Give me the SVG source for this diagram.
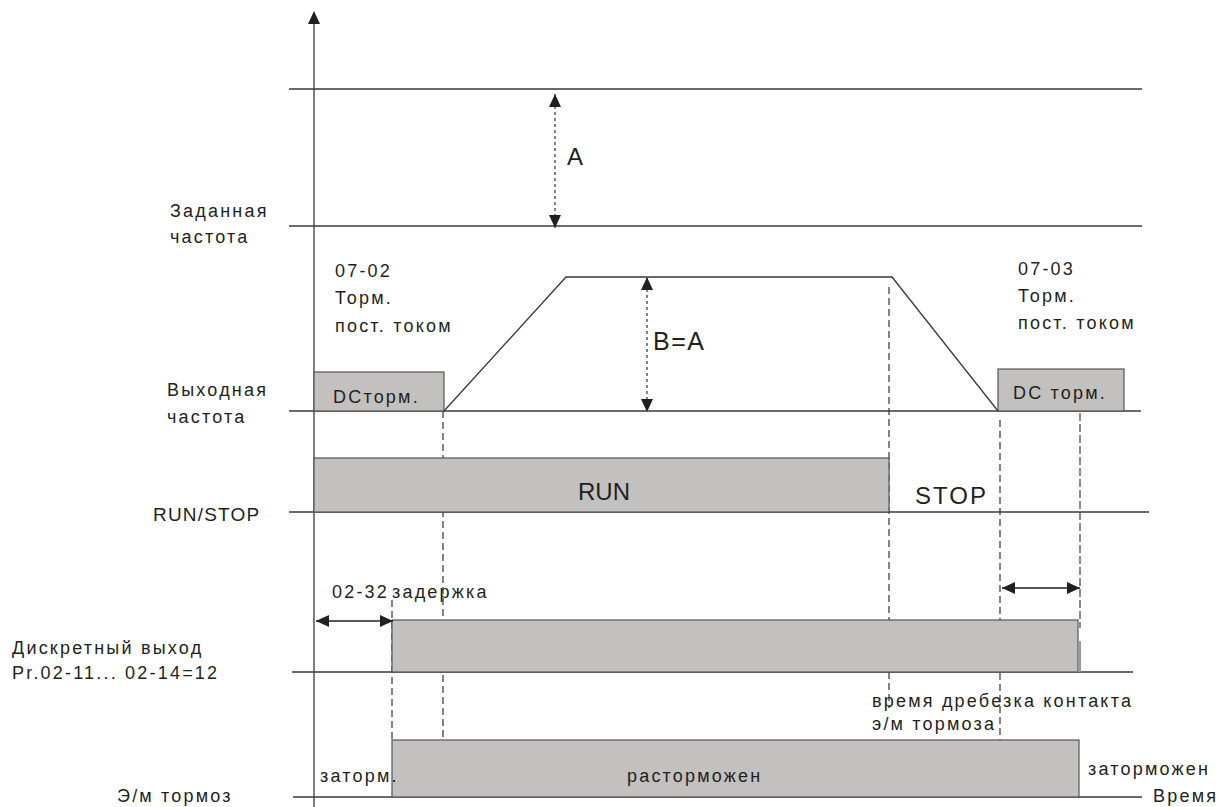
<svg xmlns="http://www.w3.org/2000/svg" width="1219" height="807" viewBox="0 0 1219 807">
<style>
.ln{stroke:#3a3a3a;stroke-width:1.3;fill:none}
.bar{fill:#c2c1bf;stroke:#555;stroke-width:1.2}
.dash{stroke:#333;stroke-width:1.2;stroke-dasharray:7,4;fill:none}
.dot{stroke:#777;stroke-width:1.8;stroke-dasharray:3,3;fill:none}
.gdash{stroke:#8a8a8a;stroke-width:2;stroke-dasharray:8,3;fill:none}
.arr{stroke:#231f20;stroke-width:1.3;fill:none}
.t{font-family:"Liberation Sans",Arial,sans-serif;font-size:18px;letter-spacing:2.2px;fill:#231f20}
.big{font-size:24px;letter-spacing:0}
</style>
<defs>
<marker id="ah" viewBox="0 0 13 12" refX="13" refY="6" markerWidth="13" markerHeight="12" markerUnits="userSpaceOnUse" orient="auto-start-reverse"><path d="M0,0 L13,6 L0,12 z" fill="#231f20"/></marker>
</defs>
<rect width="1219" height="807" fill="#fff"/>

<g id="dashed-guides">
<line class="dash" x1="443" y1="411" x2="443" y2="740"/>
<line class="dash" x1="392" y1="600" x2="392" y2="740"/>
<line class="dash" x1="889" y1="287" x2="889" y2="708"/>
<line class="dash" x1="1000" y1="420" x2="1000" y2="740"/>
<line class="gdash" x1="1080" y1="413" x2="1080" y2="628"/>
</g>

<g id="axes">
<line class="ln" x1="314" y1="22" x2="314" y2="807"/>
<polygon points="314,11 308,24 320,24" fill="#231f20"/>
<line class="ln" x1="289" y1="89" x2="1142" y2="89"/>
<line class="ln" x1="289" y1="226" x2="1142" y2="226"/>
<line class="ln" x1="289" y1="411" x2="1141" y2="411"/>
<line class="ln" x1="289" y1="512" x2="1149" y2="512"/>
<line class="ln" x1="292" y1="672" x2="1133" y2="672"/>
<line class="ln" x1="293" y1="797" x2="1142" y2="797"/>
</g>

<g id="output-frequency">
<rect class="bar" x="314" y="372" width="130" height="39"/>
<rect class="bar" x="998" y="369" width="126" height="42"/>
<polyline class="ln" points="444,411 566,277 892,277 998,411"/>
</g>

<g id="run-stop">
<rect class="bar" x="314" y="458" width="575" height="54"/>
</g>

<g id="digital-output">
<rect class="bar" x="392" y="620" width="686" height="52"/>
<rect x="1078" y="641" width="3" height="31" fill="#9a9a9a"/>
</g>

<g id="brake">
<rect class="bar" x="392" y="740" width="687" height="57"/>
</g>

<g id="connectors">
<line class="dot" x1="555" y1="94" x2="555" y2="228" marker-start="url(#ah)" marker-end="url(#ah)"/>
<line class="dot" x1="647" y1="277" x2="647" y2="412" marker-start="url(#ah)" marker-end="url(#ah)"/>
<line class="arr" x1="316" y1="621" x2="393" y2="621" marker-start="url(#ah)" marker-end="url(#ah)"/>
<line class="arr" x1="1002" y1="588" x2="1080" y2="588" marker-start="url(#ah)" marker-end="url(#ah)"/>
</g>

<g id="labels">
<text class="t" x="170" y="217">Заданная</text>
<text class="t" x="170" y="243">частота</text>
<text class="t" x="167" y="396">Выходная</text>
<text class="t" x="167" y="423">частота</text>
<text class="t" x="153" y="521" style="font-size:19px;letter-spacing:1.2px">RUN/STOP</text>
<text class="t" x="12" y="654">Дискретный выход</text>
<text class="t" x="12" y="679">Pr.02-11... 02-14=12</text>
<text class="t" x="117" y="802">Э/м тормоз</text>

<text class="t" x="335" y="277">07-02</text>
<text class="t" x="335" y="304">Торм.</text>
<text class="t" x="335" y="332">пост. током</text>
<text class="t" x="1018" y="275">07-03</text>
<text class="t" x="1018" y="302">Торм.</text>
<text class="t" x="1018" y="329">пост. током</text>

<text class="t big" x="567" y="165">A</text>
<text class="t big" x="653" y="350" style="font-size:25px;letter-spacing:1.5px">B=A</text>
<text class="t" x="333" y="403">DCторм.</text>
<text class="t" x="1013" y="399">DC торм.</text>
<text class="t big" x="578" y="500">RUN</text>
<text class="t big" x="915" y="504" style="letter-spacing:2px">STOP</text>

<text class="t" x="332" y="598">02-32</text>
<text class="t" x="392" y="598">задержка</text>
<text class="t" x="872" y="707">время дребезка контакта</text>
<text class="t" x="872" y="730">э/м тормоза</text>
<text class="t" x="320" y="782">заторм.</text>
<text class="t" x="627" y="782">расторможен</text>
<text class="t" x="1088" y="775">заторможен</text>
<text class="t" x="1153" y="802">Время</text>
</g>
</svg>
